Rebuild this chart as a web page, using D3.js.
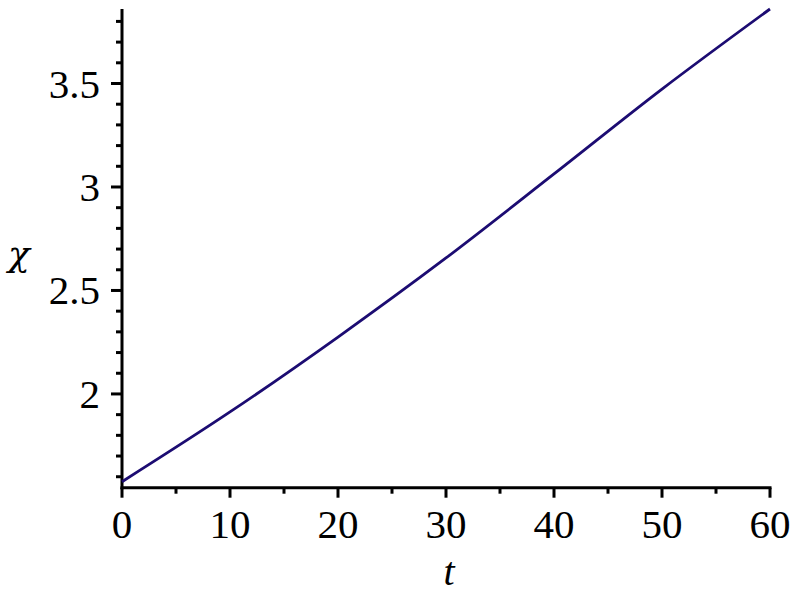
<!DOCTYPE html>
<html>
<head>
<meta charset="utf-8">
<script src="https://cdn.jsdelivr.net/npm/d3@7"></script>
<style>
  html, body { margin: 0; padding: 0; background: #fff; }
  svg { display: block; }
  text { font-family: "Liberation Serif", "DejaVu Serif", serif; fill: #000; }
</style>
</head>
<body>
<svg id="chart" width="800" height="600"></svg>
<script>
// Data
const tValues = [0, 10, 20, 30, 40, 50, 60];
const chiValues = [1.576, 1.913, 2.275, 2.657, 3.063, 3.473, 3.86];
const xTickValues = [0, 10, 20, 30, 40, 50, 60];
const yTickValues = [2, 2.5, 3, 3.5];
const xLabel = "t";
const yLabel = "χ";

const svg = d3.select("#chart");
const x = d3.scaleLinear().domain([0, 60]).range([122, 770]);
const y = d3.scaleLinear().domain([1.547, 3.86]).range([487.7, 9]);

// minor ticks
const xMinor = d3.range(5, 60, 10);
const yMinor = d3.range(1.6, 3.85, 0.1).filter(v => Math.abs(v * 2 - Math.round(v * 2)) > 1e-6);

const g = svg.append("g");

// x axis
g.append("line").attr("x1", x(0) - 1.5).attr("x2", x(60) + 1.5)
  .attr("y1", y(1.547)).attr("y2", y(1.547)).attr("stroke", "#000").attr("stroke-width", 3);
g.selectAll(".xmaj").data(xTickValues).enter().append("line")
  .attr("x1", d => x(d)).attr("x2", d => x(d))
  .attr("y1", y(1.547)).attr("y2", y(1.547) + 10)
  .attr("stroke", "#000").attr("stroke-width", 3);
g.selectAll(".xmin").data(xMinor).enter().append("line")
  .attr("x1", d => x(d)).attr("x2", d => x(d))
  .attr("y1", y(1.547)).attr("y2", y(1.547) + 6)
  .attr("stroke", "#000").attr("stroke-width", 3);
g.selectAll(".xlab").data(xTickValues).enter().append("text")
  .attr("x", d => x(d)).attr("y", 538)
  .attr("text-anchor", "middle").attr("font-size", 41)
  .text(d => d);

// y axis
g.append("line").attr("x1", x(0)).attr("x2", x(0))
  .attr("y1", y(3.86)).attr("y2", y(1.547) + 1.5).attr("stroke", "#000").attr("stroke-width", 3);
g.selectAll(".ymaj").data(yTickValues).enter().append("line")
  .attr("x1", x(0) - 11).attr("x2", x(0))
  .attr("y1", d => y(d)).attr("y2", d => y(d))
  .attr("stroke", "#000").attr("stroke-width", 3);
g.selectAll(".ymin").data(yMinor).enter().append("line")
  .attr("x1", x(0) - 6).attr("x2", x(0))
  .attr("y1", d => y(d)).attr("y2", d => y(d))
  .attr("stroke", "#000").attr("stroke-width", 3);
g.selectAll(".ylab").data(yTickValues).enter().append("text")
  .attr("x", 100).attr("y", d => y(d) + 14)
  .attr("text-anchor", "end").attr("font-size", 41)
  .text(d => d);

// axis titles
g.append("text").attr("x", 449).attr("y", 585).attr("text-anchor", "middle")
  .attr("font-size", 40).attr("font-style", "italic").text(xLabel);
g.append("text").attr("x", 19).attr("y", 266).attr("text-anchor", "middle")
  .style("font-family", "'DejaVu Serif', serif")
  .attr("font-size", 36).attr("font-style", "italic").text(yLabel);

// curve
const line = d3.line()
  .x((d, i) => x(tValues[i]))
  .y(d => y(d))
  .curve(d3.curveCatmullRom);
g.append("path").datum(chiValues)
  .attr("d", line).attr("fill", "none")
  .attr("stroke", "#1c0c72").attr("stroke-width", 2.8);
</script>
</body>
</html>
